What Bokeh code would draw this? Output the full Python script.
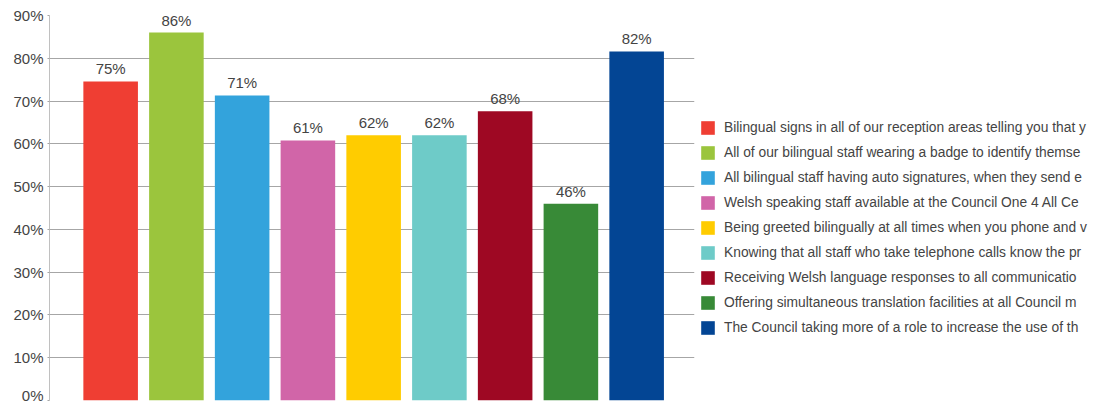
from bokeh.plotting import figure
from bokeh.models import Range1d, FixedTicker, PrintfTickFormatter, Legend, LegendItem, ColumnDataSource
from bokeh.core.properties import value
from bokeh.embed import file_html
from bokeh.resources import INLINE

categories = [
    "Bilingual signs in all of our reception areas telling you that y",
    "All of our bilingual staff wearing a badge to identify themse",
    "All bilingual staff having auto signatures, when they send e",
    "Welsh speaking staff available at the Council One 4 All Ce",
    "Being greeted bilingually at all times when you phone and v",
    "Knowing that all staff who take telephone calls know the pr",
    "Receiving Welsh language responses to all communicatio",
    "Offering simultaneous translation facilities at all Council m",
    "The Council taking more of a role to increase the use of th",
]
values = [74.6, 86.0, 71.3, 60.8, 62.0, 62.0, 67.6, 46.0, 81.6]
labels = ["75%", "86%", "71%", "61%", "62%", "62%", "68%", "46%", "82%"]
colors = ["#ef3e33", "#9bc53d", "#33a3dc", "#d165a8", "#ffcc00",
          "#6ecbc8", "#9e0823", "#388a37", "#034594"]
y_ticks = [0, 10, 20, 30, 40, 50, 60, 70, 80, 90]

FONT = "Liberation Sans"

p = figure(width=1090, height=403, output_backend="svg", toolbar_location=None,
           x_range=Range1d(-0.93, 8.88), y_range=Range1d(0, 90),
           min_border_left=49, min_border_right=0, min_border_top=15, min_border_bottom=3,
           frame_width=645, frame_height=385)
p.outline_line_color = None
p.xaxis.visible = False
p.xgrid.grid_line_color = None
p.ygrid.grid_line_color = "#a6a6a6"
p.ygrid.ticker = FixedTicker(ticks=y_ticks)
p.yaxis.ticker = FixedTicker(ticks=y_ticks)
p.yaxis.formatter = PrintfTickFormatter(format="%d%%")
p.yaxis.axis_line_color = "#c0c0c0"
p.yaxis.major_tick_line_color = "#a6a6a6"
p.yaxis.major_tick_out = 2
p.yaxis.major_tick_in = 0
p.yaxis.minor_tick_line_color = None
p.yaxis.major_label_standoff = 4
p.yaxis.major_label_text_font = FONT
p.yaxis.major_label_text_font_size = "15px"
p.yaxis.major_label_text_color = "#444444"

xs = list(range(len(values)))
items = []
for i in xs:
    src = ColumnDataSource(dict(x=[i], top=[values[i]]))
    r = p.vbar(x="x", top="top", bottom=0, width=0.83, source=src,
               fill_color=colors[i], line_color=None)
    items.append(LegendItem(label=categories[i], renderers=[r]))

lsrc = ColumnDataSource(dict(x=xs, y=values, t=labels))
p.text(x="x", y="y", text="t", source=lsrc, y_offset=-4,
       text_align="center", text_baseline="bottom",
       text_font=value(FONT), text_font_size="15px", text_color="#444444")

legend = Legend(items=items, location=(5, 64), orientation="vertical",
                glyph_width=17, glyph_height=17, label_height=17, spacing=8,
                label_standoff=8, padding=0, margin=0,
                border_line_color=None, background_fill_alpha=0,
                label_text_font=FONT, label_text_font_size="13.8px",
                label_text_color="#444444")
p.add_layout(legend, "right")

open("out.html", "w").write(file_html(p, INLINE))
